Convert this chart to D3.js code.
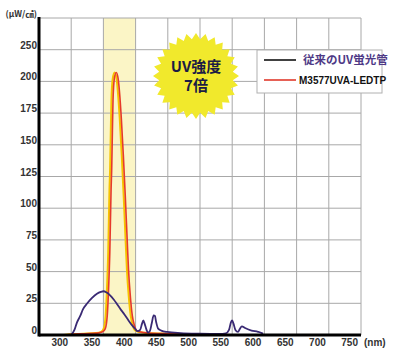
<!DOCTYPE html>
<html>
<head>
<meta charset="utf-8">
<script src="https://cdn.jsdelivr.net/npm/d3@7"></script>
<style>
  body { margin: 0; background: #fff; }
  text { font-family: "Liberation Sans", Arial, sans-serif; }
</style>
</head>
<body>
<svg width="400" height="352" id="mainsvg"></svg>
<script>
// wavelength (nm), intensity (uW/cm2)
const tubeSpectrum = [
  [300,0],[305,4],[309,10],[314,15],[318,20],[325,25],[332,29],[340,32.5],[346,34],[350,34.5],
  [355,33.5],[360,31.5],[366,28],[371,24.5],[377,20],[383,16],[389,11.5],[394,8],[399,5],[403,3],
  [407,4],[410,9],[412,11.5],[414,9],[417,4],[419,2],[422,3],[425,9],[428,15.5],[430,15],
  [432,10],[435,5],[440,3.5],[449,2.4],[470,1.5],[500,1],[530,0.8],[540,1.2],[545,4],[548,10],
  [550,11.5],[552,9],[555,4],[559,2.4],[562,5],[565,6.8],[570,5.5],[580,3.5],[590,2.5],[596,1.5],[598,1]
];
const ledSpectrum = [
  [290,0],[300,0.5],[320,1],[340,1.5],[348,2.5],[352,5],[355,15],[357,35],[359,65],[361,115],
  [362,132],[363,160],[364,185],[366,202],[369,207],[372,202],[374,192],[377,170],[380,142],[383,110],
  [386,75],[388,52],[391,30],[394,15],[397,8],[400,4],[405,2.5],[420,1.5],[450,1],[500,0.5],[550,0]
];
const xTicks = [300,350,400,450,500,550,600,650,700,750];
const yTicks = [0,25,50,75,100,125,150,175,200,225];
const yTickLabels = ['0','25','50','75','100','125','150','175','200','250'];
const bandRange = [350, 400];
const legendNames = ['従来のUV蛍光管', 'M3577UVA-LEDTP'];

const svg = d3.select('#mainsvg');
const x = d3.scaleLinear().domain([250, 750]).range([39, 361]);
const y = d3.scaleLinear().domain([0, 250]).range([335, 18]);

// highlight band
svg.append('rect')
  .attr('x', x(bandRange[0])).attr('y', y(250))
  .attr('width', x(bandRange[1]) - x(bandRange[0]))
  .attr('height', y(0) - y(250))
  .attr('fill', '#fbf5c6');

// grid
const grid = svg.append('g').attr('stroke', '#a8a8a8').attr('stroke-width', 1);
grid.selectAll('.vg').data(xTicks).join('line')
  .attr('x1', d => x(d)).attr('x2', d => x(d))
  .attr('y1', y(250)).attr('y2', y(0));
grid.selectAll('.hg').data(yTicks.slice(1).concat([250])).join('line')
  .attr('x1', x(250)).attr('x2', x(750))
  .attr('y1', d => y(d)).attr('y2', d => y(d));

// starburst
const cx = 196, cy = 76, nPts = 28;
const starPts = d3.range(nPts * 2).map(i => {
  const r = i % 2 === 0 ? 43 : 37;
  const a = i * Math.PI / nPts;
  return [cx + r * Math.cos(a), cy + r * Math.sin(a)];
});
svg.append('polygon')
  .attr('points', starPts.map(p => p.join(',')).join(' '))
  .attr('fill', '#f1e92c');
svg.append('text').attr('x', cx).attr('y', cy - 4)
  .attr('text-anchor', 'middle').attr('font-size', 15).attr('font-weight', 'bold')
  .attr('fill', '#1c1c44').style('font-family', '"Noto Sans CJK JP", sans-serif')
  .text('UV強度');
svg.append('text').attr('x', cx).attr('y', cy + 15)
  .attr('text-anchor', 'middle').attr('font-size', 15).attr('font-weight', 'bold')
  .attr('fill', '#1c1c44').style('font-family', '"Noto Sans CJK JP", sans-serif')
  .text('7倍');

// curves
const line = d3.line().x(d => x(d[0])).y(d => y(d[1])).curve(d3.curveMonotoneX);
svg.append('path').datum(ledSpectrum).attr('d', line)
  .attr('fill', 'none').attr('stroke', '#f6c400').attr('stroke-width', 2)
  .attr('transform', 'translate(-1,0)');
svg.append('path').datum(ledSpectrum).attr('d', line)
  .attr('fill', 'none').attr('stroke', '#e63a2c').attr('stroke-width', 1.6)
  .attr('transform', 'translate(0.6,0)');
svg.append('path').datum(tubeSpectrum).attr('d', line)
  .attr('fill', 'none').attr('stroke', '#3a2a74').attr('stroke-width', 1.8);

// axes lines
svg.append('line').attr('x1', x(250)).attr('x2', x(250)).attr('y1', y(250) - 1).attr('y2', y(0) + 1.5)
  .attr('stroke', '#000').attr('stroke-width', 3);
svg.append('line').attr('x1', x(250)).attr('x2', x(750)).attr('y1', y(0)).attr('y2', y(0))
  .attr('stroke', '#000').attr('stroke-width', 3);

// tick labels
svg.selectAll('.xl').data(xTicks).join('text')
  .attr('x', d => x(d) - 3).attr('y', 346)
  .attr('text-anchor', 'end').attr('font-size', 10).attr('font-weight', 'bold').attr('fill', '#333')
  .text(d => d);
svg.selectAll('.yl').data(yTicks).join('text')
  .attr('x', 37).attr('y', d => y(d) - 1)
  .attr('text-anchor', 'end').attr('font-size', 10).attr('font-weight', 'bold').attr('fill', '#333')
  .text((d, i) => yTickLabels[i]);
svg.append('text').attr('x', 364).attr('y', 346)
  .attr('font-size', 10).attr('font-weight', 'bold').attr('fill', '#333').text('(nm)');
svg.append('text').attr('x', 37).attr('y', 17).attr('text-anchor', 'end')
  .attr('font-size', 8.5).attr('font-weight', 'bold').attr('fill', '#333')
  .style('font-family', '"Noto Sans CJK JP", sans-serif').text('(μW/㎠)');

// legend
const lg = svg.append('g');
lg.append('rect').attr('x', 257).attr('y', 50).attr('width', 125).attr('height', 43)
  .attr('fill', '#fff').attr('stroke', '#b0b0b0');
const legColors = ['#111', '#e03a2c'];
legendNames.forEach((name, i) => {
  const ly = 60 + i * 20;
  lg.append('line').attr('x1', 264).attr('x2', 296).attr('y1', ly).attr('y2', ly)
    .attr('stroke', legColors[i]).attr('stroke-width', 1.6);
  lg.append('text').attr('x', i === 0 ? 303 : 299).attr('y', ly + 4)
    .attr('font-size', i === 0 ? 11.5 : 10).attr('font-weight', 'bold')
    .attr('fill', i === 0 ? '#4e3a86' : '#111')
    .style('font-family', i === 0 ? '"Noto Sans CJK JP", sans-serif' : null)
    .text(name);
});
</script>
</body>
</html>
